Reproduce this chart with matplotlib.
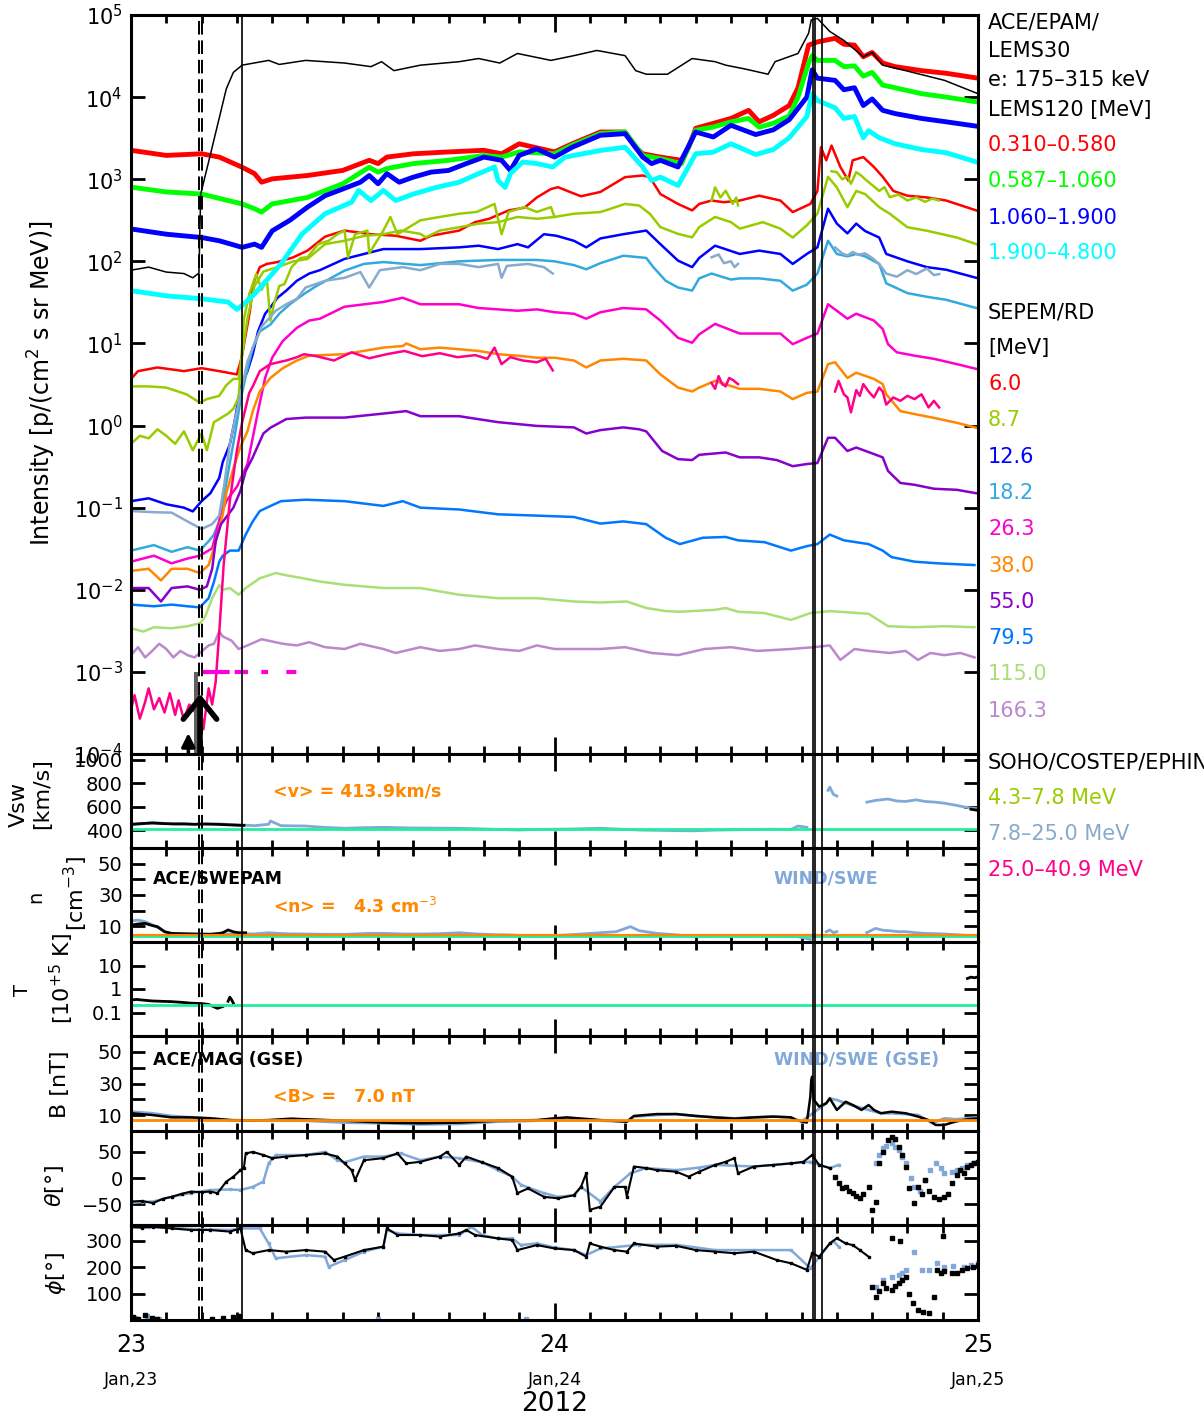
import numpy as np
import matplotlib
matplotlib.use("Agg")
import matplotlib.pyplot as plt
from matplotlib.patches import Rectangle
from matplotlib.ticker import NullLocator
from matplotlib.transforms import blended_transform_factory

plt.rcParams["font.family"] = ["DejaVu Sans"]
plt.rcParams["mathtext.fontset"] = "dejavusans"

nan = np.nan

# ---------------------------------------------------------------------------
# time axis: hours since 2012-01-23 00:00 UT
# ---------------------------------------------------------------------------

# ACE/EPAM LEMS30 electrons 175-315 keV
e30_t = [0, 1, 2, 3, 3.5, 3.85, 3.95, 4.5, 5.4, 5.8, 6.3, 7.8, 8.4, 9.9, 12.1, 13.6, 14.2, 14.9,
         16.4, 18.6, 19.7, 20.9, 21.9, 23.8, 25.1, 26.4, 28.0, 28.6, 29.2, 30.4, 31.8, 33.1, 33.7,
         34.8, 36.1, 36.5, 37.8, 38.4, 38.55, 38.9, 39.6, 40.4, 41.5, 42.0, 42.6, 43.9, 46.1, 48]
e30 = [78, 85, 74, 71, 63, 72, 660, 2.0e3, 1.26e4, 2.0e4, 2.45e4, 2.8e4, 2.5e4, 2.8e4, 2.6e4,
       2.35e4, 2.7e4, 2.1e4, 2.45e4, 2.7e4, 2.95e4, 2.6e4, 3.4e4, 2.8e4, 3.2e4, 3.7e4, 3.2e4,
       2.1e4, 1.9e4, 1.9e4, 2.95e4, 2.7e4, 2.45e4, 2.2e4, 1.9e4, 2.7e4, 3.4e4, 6.0e4, 8.7e4,
       9.1e4, 6.3e4, 4.9e4, 3.1e4, 3.5e4, 2.45e4, 2.1e4, 1.6e4, 1.1e4]

# ACE/EPAM LEMS120 protons
l1_t = [0, 2, 4, 5, 6.3, 7, 7.4, 8, 10, 12, 13.5, 14, 14.5, 16, 18, 20, 21, 22, 24, 25, 26.6,
        28, 28.6, 29, 30, 31.2, 31.6, 32, 33, 34, 35, 35.6, 36.4, 37.3, 37.8, 38.4, 38.9, 39.9,
        40.4, 41.0, 41.5, 42.0, 42.6, 43.3, 44.8, 46.2, 48]
l1 = [2250, 1950, 2040, 1860, 1400, 1170, 920, 1010, 1110, 1280, 1700, 1550, 1860, 2040, 2150,
      2250, 2040, 2700, 2150, 2700, 3760, 3760, 2450, 2040, 1860, 1700, 2450, 4170, 4790, 5500,
      6900, 5000, 6000, 7900, 1.3e4, 4.3e4, 4.7e4, 5.2e4, 4.4e4, 4.3e4, 3.1e4, 3.5e4, 2.6e4,
      2.35e4, 2.1e4, 1.95e4, 1.7e4]
l2_t = [0, 2, 4, 5.5, 6.3, 7, 7.4, 8, 10, 12, 13.5, 14, 14.5, 16, 18, 20, 21, 22, 24, 25, 26.6,
        28, 29, 30, 31.2, 32, 33, 34, 35, 35.6, 36.4, 37.3, 37.8, 38.4, 38.6, 38.9, 39.9, 40.4,
        41.0, 41.5, 42.0, 42.6, 43.3, 44.8, 46.2, 48]
l2 = [800, 700, 660, 550, 500, 437, 398, 500, 600, 880, 1400, 1220, 1350, 1550, 1700, 1950, 1860,
      2150, 2040, 2600, 3600, 3760, 1950, 1780, 1550, 3950, 4330, 5000, 5500, 4300, 4800, 5900,
      1.0e4, 2.6e4, 3.2e4, 2.8e4, 2.8e4, 2.35e4, 2.4e4, 1.8e4, 2.0e4, 1.4e4, 1.3e4, 1.1e4,
      1.0e4, 8700]
l3_t = [0, 2, 4, 5, 6.3, 7, 7.4, 8, 9, 10, 11, 12, 13, 13.5, 14, 14.5, 15.2, 16, 17, 18, 19, 20,
        21, 21.5, 22, 23, 24, 25, 26.6, 28, 29, 29.5, 30, 31, 32, 33, 34, 35.4, 36.4, 37.3, 38.3,
        38.6, 38.9, 39.9, 40.4, 41.0, 41.5, 42.0, 42.6, 43.3, 44.8, 46.2, 48]
l3 = [248, 214, 195, 178, 148, 162, 148, 235, 316, 457, 630, 760, 920, 1110, 880, 1170, 920,
      1060, 1220, 1280, 1550, 1860, 1700, 1280, 1950, 2340, 1860, 2450, 3430, 3590, 1860, 1550,
      1700, 1410, 3760, 3270, 4540, 3500, 4000, 5300, 1.0e4, 2.15e4, 1.7e4, 1.6e4, 1.23e4,
      1.3e4, 7900, 9500, 6900, 6300, 5500, 5000, 4400]
l4_t = [0, 2, 4, 5.5, 6, 6.3, 7, 7.5, 8.5, 9.7, 11, 12.5, 12.9, 13.6, 14.3, 15, 16, 17.3, 18.6,
        19.7, 20.6, 20.8, 21.2, 21.5, 22.2, 23, 23.9, 24.6, 26.6, 28, 29, 29.5, 30, 31, 32, 33,
        34, 35.4, 36.4, 37.3, 38.3, 38.6, 38.9, 39.9, 40.4, 41.0, 41.5, 41.8, 42.4, 43.3, 44.8,
        46.2, 48]
l4 = [44, 38, 35, 32, 26, 29, 40, 53, 93, 216, 380, 525, 730, 550, 730, 550, 660, 795, 920,
      1170, 1410, 966, 795, 1170, 1620, 1550, 1410, 1860, 2240, 2450, 1410, 966, 1060, 840, 2040,
      2140, 2700, 2000, 2300, 3200, 5800, 1.1e4, 9100, 7400, 5500, 5800, 3200, 3900, 3200, 2700,
      2300, 2100, 1600]

# SEPEM reference dataset channels
s1_t = [0, 0.4, 1.5, 3, 4, 5, 6.0, 6.27, 6.74, 6.93, 7.3, 7.7, 8.3, 9.2, 10, 11, 12.1, 13.6, 15,
        16.4, 17, 18.6, 19.5, 20.3, 21.4, 22.3, 23, 23.8, 24.2, 24.8, 25.5, 26.6, 28, 29, 29.4,
        30, 31, 31.8, 32.2, 32.9, 33.6, 34.5, 35.6, 36.8, 37.5, 38.5, 38.9, 39.1, 39.4, 39.7,
        40.2, 40.65, 40.9, 41.5, 42.1, 42.6, 43.2, 44.0, 45.1, 46.2, 47.9]
s1 = [3.7, 4.6, 5.1, 4.6, 5.0, 4.6, 4.2, 6.7, 25, 54, 85, 93, 98, 112, 135, 200, 237, 214, 205,
      178, 205, 237, 300, 330, 417, 450, 600, 760, 800, 710, 620, 700, 1060, 1110, 1060, 660,
      500, 417, 500, 550, 525, 550, 630, 550, 398, 500, 720, 2450, 1700, 2570, 1410, 966, 1700,
      1860, 1410, 1070, 720, 630, 600, 550, 417]
s2_t = [0, 1, 2, 3.15, 3.9, 4.3, 5.0, 5.4, 5.8, 6.1, 6.6, 7.0, 7.5, 8.3, 9.2, 10, 11, 12.1, 13.2,
        14.3, 15.3, 16.4, 16.7, 17.5, 18.6, 19.7, 20.8, 21.9, 23, 24, 25.1, 26.6, 28, 28.8, 29.4,
        30, 31, 31.8, 32.2, 33.1, 34.0, 34.5, 35.8, 36.8, 37.5, 38.3, 38.9, 39.5, 40.0, 40.6,
        41.1, 41.6, 42.4, 43.0, 44.0, 45.1, 46.8, 47.9]
s2 = [3.0, 3.0, 2.9, 2.4, 1.9, 2.1, 2.3, 3.1, 3.7, 3.7, 20, 50, 75, 85, 100, 107, 162, 178, 204,
      214, 237, 216, 196, 237, 260, 288, 300, 347, 330, 347, 380, 398, 500, 478, 380, 261, 216,
      196, 261, 347, 300, 250, 300, 250, 195, 275, 380, 1070, 795, 457, 720, 660, 457, 380, 260,
      236, 195, 162]
s3_t = [0, 1, 2, 3, 3.5, 4, 4.5, 5.0, 5.2, 5.6, 5.9, 6.2, 6.6, 6.9, 7.2, 7.6, 7.9, 8.3, 8.8, 9.4,
        10.1, 10.7, 12.1, 14.3, 16.4, 18.6, 19.7, 20.8, 21.9, 22.5, 23.4, 24.1, 25.1, 25.8, 26.6,
        27.9, 29.2, 30, 31, 31.8, 32.2, 33.1, 34.5, 35.6, 36.8, 37.5, 38.3, 38.9, 39.5, 40.0,
        40.6, 41.1, 41.6, 42.4, 42.8, 44.0, 45.1, 46.2, 47.9]
s3 = [0.12, 0.13, 0.11, 0.10, 0.09, 0.12, 0.15, 0.23, 0.36, 0.59, 1.2, 2.9, 4.6, 7.4, 14, 23,
      27.5, 36, 44, 58, 71, 78, 107, 141, 141, 148, 155, 141, 162, 148, 214, 205, 178, 148, 190,
      214, 237, 162, 102, 85, 110, 155, 123, 135, 123, 93, 123, 148, 437, 288, 219, 288, 234,
      195, 123, 100, 85, 79, 63]
s4_t = [0, 1.3, 2.3, 3.2, 3.9, 4.4, 4.7, 5.0, 5.3, 5.6, 5.9, 6.2, 6.5, 6.9, 7.3, 7.9, 8.4, 9.0,
        9.8, 10.5, 12.1, 13.2, 14.3, 16.4, 18.6, 20.8, 23, 24, 25.1, 25.8, 26.6, 27.9, 29.2, 29.6,
        30.3, 31, 31.8, 32.2, 32.9, 34, 34.5, 35.6, 36.8, 37.5, 38.3, 38.9, 39.5, 40.0, 40.6,
        41.1, 41.6, 42.4, 42.8, 44.0, 45.1, 46.2, 47.9]
s4 = [0.030, 0.035, 0.029, 0.033, 0.030, 0.039, 0.047, 0.068, 0.15, 0.35, 0.8, 2.0, 4.0, 8.9, 14,
      17, 23, 30, 40, 50, 77, 93, 98, 90, 100, 104, 104, 100, 90, 80, 95, 117, 110, 85, 58, 48,
      44, 62, 71, 60, 62, 62, 58, 44, 52, 71, 178, 123, 115, 123, 115, 93, 54, 41, 37, 34, 27]
s5_t = [0, 1.3, 2.3, 3.2, 3.9, 4.6, 4.8, 5.1, 5.4, 6.0, 6.6, 6.9, 7.2, 7.6, 8.0, 8.6, 9.4, 10.1,
        10.7, 12.1, 14.3, 15.4, 16.4, 18.6, 19.7, 20.8, 21.9, 23, 24, 25.1, 25.8, 26.6, 27.9,
        29.2, 30, 31, 31.8, 32.2, 33.1, 34.5, 35.6, 36.8, 37.5, 38.3, 38.9, 39.5, 40.0, 40.6,
        41.1, 42.1, 42.6, 42.9, 43.4, 44.4, 45.5, 46.8, 47.9]
s5 = [0.022, 0.026, 0.021, 0.024, 0.026, 0.032, 0.047, 0.083, 0.12, 0.18, 0.34, 0.71, 1.5, 3.8,
      6.7, 10.7, 15.5, 19, 20, 28, 32, 36, 30, 30, 27, 26, 25, 26, 24, 23, 20, 24, 27, 26, 19,
      11.7, 10.2, 12.9, 17.3, 13.2, 13.2, 13.2, 9.8, 11.7, 13.2, 30, 25, 20, 23, 19, 15, 9.8,
      7.8, 7.1, 6.5, 5.6, 4.9]
s6_t = [0, 1, 1.7, 2.3, 3.2, 3.9, 4.4, 4.7, 5.0, 5.2, 5.4, 5.8, 6.2, 6.6, 6.9, 7.3, 7.9, 8.6, 9.4,
        10.1, 12.1, 14.3, 15.4, 15.6, 16.4, 17.5, 18.6, 19.7, 20.8, 21.9, 23, 24, 25.1, 25.8,
        26.6, 27.9, 29.2, 30, 31, 31.8, 32.2, 33.1, 34.5, 35.6, 36.8, 37.5, 38.3, 38.9, 39.5,
        39.9, 40.6, 41.1, 42.1, 42.6, 42.8, 43.6, 44.4, 45.5, 46.8, 47.9]
s6 = [0.017, 0.018, 0.013, 0.018, 0.018, 0.016, 0.020, 0.032, 0.056, 0.083, 0.15, 0.3, 0.55,
      0.85, 1.5, 2.6, 3.8, 5.0, 6.2, 7.1, 7.4, 8.9, 9.3, 10, 8.5, 8.9, 8.5, 8.1, 7.4, 7.1, 6.7,
      6.7, 6.2, 5.1, 6.2, 6.5, 6.2, 4.2, 2.9, 2.6, 2.9, 3.5, 2.8, 2.8, 2.6, 2.1, 2.5, 2.6, 5.6,
      5.9, 3.8, 4.4, 3.7, 3.2, 2.4, 1.5, 1.38, 1.24, 1.08, 0.94]
s7_t = [0, 1, 1.7, 2.3, 3.2, 3.9, 4.3, 4.6, 4.8, 5.1, 5.8, 6.2, 6.5, 6.9, 7.5, 7.9, 8.8, 9.9,
        12.1, 14.3, 15.6, 16.4, 18.6, 20.8, 23, 25.1, 25.8, 26.6, 27.9, 28.8, 29.2, 30.1, 31,
        31.8, 32.2, 33.7, 34.5, 35.6, 36.6, 37.5, 38.3, 38.9, 39.5, 39.9, 40.6, 41.1, 42.1, 42.6,
        42.9, 43.6, 44.4, 45.5, 46.8, 47.9]
s7 = [0.0105, 0.0105, 0.0072, 0.0105, 0.011, 0.010, 0.011, 0.018, 0.039, 0.063, 0.10, 0.16,
      0.28, 0.41, 0.80, 0.94, 1.2, 1.25, 1.25, 1.4, 1.5, 1.3, 1.3, 1.1, 0.99, 0.95, 0.8, 0.88,
      0.95, 0.9, 0.85, 0.49, 0.39, 0.38, 0.44, 0.47, 0.41, 0.41, 0.38, 0.32, 0.34, 0.35, 0.71,
      0.71, 0.49, 0.54, 0.45, 0.41, 0.28, 0.20, 0.19, 0.17, 0.165, 0.15]
s8_t = [0, 1.3, 2.3, 3.2, 3.9, 4.4, 4.7, 5.0, 5.2, 5.6, 6.1, 6.5, 6.9, 7.3, 7.7, 8.5, 9.9, 12.1,
        14.3, 15.4, 16.4, 18.6, 20.8, 23, 25.1, 26.6, 27.9, 29.2, 30.3, 31.1, 32.4, 33.7, 34.4,
        35.9, 37.4, 38.3, 38.9, 39.6, 40.4, 41.8, 42.6, 43.1, 44.4, 45.7, 47.8]
s8 = [0.0066, 0.0063, 0.0066, 0.0063, 0.0061, 0.0079, 0.0125, 0.022, 0.026, 0.030, 0.030, 0.047,
      0.068, 0.091, 0.10, 0.12, 0.125, 0.12, 0.105, 0.12, 0.10, 0.095, 0.083, 0.080, 0.077,
      0.064, 0.068, 0.063, 0.043, 0.036, 0.043, 0.044, 0.040, 0.038, 0.030, 0.034, 0.036, 0.047,
      0.040, 0.036, 0.030, 0.025, 0.022, 0.021, 0.020]
s9_t = [0, 0.7, 1.3, 2.3, 3.2, 3.9, 4.2, 4.6, 5.0, 5.2, 5.6, 6.1, 6.5, 7.3, 8.2, 8.8, 9.6, 10.7,
        12.1, 14.3, 16.4, 18.6, 20.8, 23, 25.1, 26.6, 28.1, 29.2, 30.3, 31.1, 33.1, 33.7, 34.4,
        35.9, 37.4, 38.5, 39.6, 41.8, 42.9, 44.4, 46.1, 47.8]
s9 = [0.0034, 0.0031, 0.0035, 0.0034, 0.0036, 0.0039, 0.0047, 0.0079, 0.0114, 0.010, 0.0105,
      0.0087, 0.0105, 0.0138, 0.016, 0.015, 0.014, 0.0126, 0.0115, 0.0105, 0.0105, 0.0087,
      0.0079, 0.0079, 0.0072, 0.0070, 0.0072, 0.0060, 0.0055, 0.0054, 0.0057, 0.0060, 0.0054,
      0.0052, 0.0043, 0.0052, 0.0055, 0.0051, 0.0036, 0.0035, 0.0036, 0.0035]
s10_t = [0, 0.4, 0.8, 1.2, 1.6, 2.0, 2.4, 2.8, 3.2, 3.6, 3.9, 4.4, 4.7, 5.0, 5.2, 5.7, 6.1, 6.6,
         7.4, 8.6, 9.4, 10.1, 11, 12.1, 13, 14.3, 15, 16.4, 17.5, 18.6, 19.5, 20.8, 22, 23, 24,
         25.1, 26.6, 28, 29.5, 31, 32.5, 34, 35.5, 37.4, 38.7, 39.6, 40.2, 41, 41.8, 43, 43.9,
         44.6, 45.3, 46.1, 47, 47.8]
s10 = [0.0016, 0.0020, 0.0015, 0.0018, 0.0022, 0.0019, 0.0015, 0.0018, 0.0016, 0.0015, 0.0017,
       0.0021, 0.0022, 0.0031, 0.0027, 0.0024, 0.0019, 0.0021, 0.0025, 0.0022, 0.0021, 0.0023,
       0.0020, 0.0019, 0.0022, 0.0019, 0.0017, 0.0020, 0.0018, 0.0019, 0.0021, 0.0019, 0.0018,
       0.0021, 0.0019, 0.0019, 0.0019, 0.0020, 0.0017, 0.0016, 0.0019, 0.0020, 0.0018, 0.0019,
       0.0020, 0.0021, 0.0014, 0.0019, 0.0018, 0.0017, 0.0018, 0.0014, 0.0017, 0.0016, 0.0017,
       0.0015]

# SOHO/COSTEP/EPHIN channels (nan marks data gaps)
p1_t = [0, 0.5, 1, 1.5, 2, 2.5, 3, 3.5, 4, 4.3, 4.7, 5.0, 5.5, 5.8, 6.1, 6.4, 6.7, 7.1, 7.4, 7.7,
        7.9, 8.1, 8.4, 8.7, 9.1, 9.6, 10.0, 10.6, 11.2, 11.7, 12.1, 12.3, 12.7, 13.4, 13.5, 14.3,
        14.7, 15.1, 16.4, 17.5, 18.6, 19.6, 20.6, 21.0, 21.4, 22.3, 23.0, 23.8, 24.0, 28,
        32.9, 33.1, 33.4, 33.7, 34.1, 34.3, 34.4, 37,
        39.7, 40.0, 40.3, 40.6, 40.8, 41.1, 41.4, 41.6, 42.0, 42.4, 42.7, 43.0, 43.5, 44.0, 44.5,
        45.0, 45.4, 45.8]
p1 = [0.6, 0.75, 0.7, 0.9, 0.75, 0.6, 0.85, 0.5, 0.8, 0.5, 1.1, 1.2, 1.4, 1.6, 2.2, 20, 40, 70,
      45, 60, 19, 30, 50, 53, 85, 110, 112, 162, 178, 214, 237, 112, 214, 237, 125, 237, 347, 214,
      316, 347, 380, 400, 500, 214, 400, 457, 400, 457, 347, nan,
      550, 795, 600, 725, 500, 600, 480, nan,
      1250, 1220, 1000, 1070, 880, 1220, 1100, 1000, 850, 720, 800, 605, 650, 550, 600, 530,
      580, 550]
p2_t = [0, 1.3, 2.3, 3.2, 4.0, 4.6, 5.0, 5.3, 5.6, 6.0, 6.3, 6.6, 7.0, 7.4, 7.8, 8.2, 8.8, 9.4,
        9.9, 11.0, 12.1, 13.0, 13.5, 14.1, 15.4, 16.4, 17.5, 18.6, 19.7, 20.8, 21.0, 21.3, 22.5,
        23.4, 23.9, 28,
        32.9, 33.3, 33.6, 34.0, 34.2, 34.4, 37,
        39.9, 40.3, 40.6, 40.9, 41.2, 41.6, 42.0, 42.4, 42.8, 43.4, 44.0, 44.5, 45.1, 45.5, 45.8]
p2 = [0.091, 0.088, 0.087, 0.068, 0.055, 0.063, 0.08, 0.2, 0.6, 1.5, 3, 6, 10, 16, 20, 25, 30,
      35, 48, 58, 63, 74, 48, 78, 85, 78, 93, 93, 85, 93, 63, 88, 93, 85, 71, nan,
      112, 121, 95, 100, 85, 93, nan,
      148, 125, 118, 130, 120, 125, 110, 93, 71, 65, 78, 70, 82, 68, 70]
p3_t = [0, 0.2, 0.5, 0.8, 1.0, 1.3, 1.6, 1.9, 2.2, 2.5, 2.7, 3.0, 3.3, 3.6, 3.9, 4.1, 4.4, 4.6,
        4.8, 5.0, 5.25, 5.6, 6.0, 6.3, 6.7, 6.9, 7.3, 7.9, 8.8, 9.4, 9.8, 10.5, 11.5, 12.5, 13.5,
        14.5, 15.5, 16.5, 17.5, 18.5, 19.5, 20.2, 20.6, 21.0, 21.5, 22.2, 23.0, 23.5, 23.9, 28,
        32.9, 33.1, 33.3, 33.5, 33.7, 33.9, 34.1, 34.4, 37,
        39.9, 40.1, 40.4, 40.6, 40.8, 41.1, 41.3, 41.5, 41.8, 42.1, 42.4, 42.6, 42.8, 43.2, 43.6,
        44.0, 44.4, 44.8, 45.2, 45.5, 45.8]
p3 = [3.5e-4, 5.2e-4, 2.7e-4, 4.3e-4, 6.3e-4, 3.5e-4, 4.8e-4, 3.2e-4, 5.5e-4, 3.0e-4, 4.5e-4,
      2.6e-4, 4.0e-4, 3.3e-4, 4.2e-4, 2.0e-4, 6.3e-4, 4.0e-4, 7.6e-4, 3.0e-3, 0.02, 0.12, 0.5,
      1.1, 2.5, 3.0, 4.6, 5.6, 6.2, 6.8, 7.4, 7.0, 6.2, 7.8, 6.6, 7.4, 8.1, 7.0, 7.6, 6.8, 7.2,
      6.5, 8.9, 5.6, 6.8, 6.2, 5.9, 6.5, 4.7, nan,
      3.3, 2.8, 4.0, 3.2, 3.0, 3.8, 3.6, 3.2, nan,
      2.6, 3.5, 2.4, 2.2, 1.45, 2.7, 2.3, 3.2, 2.6, 2.2, 2.9, 2.6, 1.8, 2.2, 2.0, 2.3, 2.1, 2.4,
      1.66, 2.0, 1.66]

# solar wind speed [km/s]
v_ace_t = [0, 0.6, 1.2, 1.8, 2.4, 3.0, 3.6, 4.2, 4.8, 5.4, 6.0, 6.4, 30, 47.6, 47.8, 48.0]
v_ace = [452, 458, 462, 458, 455, 456, 452, 455, 452, 448, 444, 442, nan, 580, 575, 570]
v_wind_t = [0, 0.6, 1.2, 1.7, 2.4, 3.0, 4.0, 5.0, 6.0, 7.0, 7.8, 7.9, 8.5, 9.9, 11, 12.1, 13,
            14.3, 16, 18.6, 20, 21.9, 23, 24, 25, 26.6, 28.8, 30, 31.8, 33, 35.3, 36.5, 37.4,
            37.8, 38.3, 39, 39.5, 39.6, 39.8, 40.0, 41, 41.7, 42.2, 42.9, 43.4, 43.9, 44.5,
            45.0, 45.6, 46.1, 46.7, 47.2, 47.6, 48]
v_wind = [446, 455, 468, 462, 455, 452, 450, 455, 448, 440, 452, 480, 440, 437, 425, 418, 422,
          426, 420, 418, 412, 403, 408, 410, 412, 418, 403, 400, 396, 402, 408, 410, 408, 437,
          426, nan, 740, 768, 707, 692, nan, 640, 655, 667, 650, 646, 660, 646, 640, 631, 615,
          600, 590, 585]
v_mean = 413.9

# proton density [cm^-3]
n_ace_t = [0, 0.4, 0.8, 1.2, 1.5, 1.9, 2.3, 2.8, 3.4, 4.0, 4.5, 5.0, 5.2, 5.5, 5.8, 6.1, 6.5]
n_ace = [10.8, 11.5, 11.9, 10.5, 9.8, 6.6, 5.5, 5.3, 5.1, 5.0, 4.9, 5.5, 5.9, 7.7, 6.5, 5.9, 5.9]
n_wind_t = [0, 0.4, 0.8, 1.2, 1.6, 2.0, 2.3, 3.0, 4.0, 5.0, 6.0, 7.0, 7.8, 8.3, 9.0, 9.9, 11,
            12.1, 13.5, 14.3, 15.5, 16.4, 17.5, 18.6, 19.5, 20.5, 21.5, 23, 24, 25, 26.6, 27.5,
            28.3, 28.8, 29.8, 31, 31.8, 33, 34.5, 35.3, 36.5, 37.8, 38.5, 39,
            39.4, 39.6, 39.8, 40.0, 41,
            41.7, 42.2, 42.6, 43.0, 43.5, 43.9, 44.5, 45.0, 45.6, 46.1, 47.0, 48]
n_wind = [13.4, 14.0, 13.0, 11.0, 8.7, 6.0, 5.5, 5.3, 5.1, 5.0, 5.1, 5.2, 5.9, 5.5, 5.2, 5.1,
          4.9, 4.9, 5.5, 5.5, 5.1, 5.1, 5.3, 5.9, 5.2, 4.7, 4.5, 3.4, 4.0, 4.7, 5.9, 6.6, 9.8,
          7.2, 5.5, 4.5, 3.4, 4.0, 3.8, 4.0, 3.8, 3.4, 1.7, nan,
          6.5, 7.7, 6.0, 6.6, nan,
          6.0, 8.7, 7.5, 7.2, 6.6, 6.6, 5.9, 5.5, 5.3, 5.1, 4.5, 3.8]
n_mean = 4.3
n_mean_ace = 3.6

# proton temperature [10^5 K]
T_ace_t = [0, 0.3, 0.8, 1.2, 1.7, 2.3, 2.9, 3.4, 4.0, 4.4, 4.9, 5.2, 5.3, 5.5, 5.6, 5.7, 5.8,
           6.0, 6.4, 20, 47.4, 47.6, 47.8, 48]
T_ace = [0.34, 0.36, 0.33, 0.31, 0.30, 0.29, 0.27, 0.25, 0.24, 0.22, 0.15, 0.18, nan, 0.30, 0.45,
         0.35, 0.25, nan, 0.55, nan, 2.8, 3.2, 3.0, 3.3]
T_mean = 0.2

# magnetic field magnitude [nT]
B_ace_t = [0, 1.2, 2.3, 3.4, 4.5, 5.6, 6.5, 7.8, 9.1, 9.9, 12.1, 14.3, 16.4, 18.6, 20.8, 23, 24,
           24.7, 26.6, 28.1, 28.5, 29.8, 30.9, 32, 33.1, 34.2, 35.3, 36.4, 37.4, 37.7, 38.3,
           38.5, 38.55, 38.6, 38.7, 39.0, 39.4, 39.6, 40.0, 40.5, 40.9, 41.4, 41.8, 42.1, 42.5,
           43.1, 43.9, 44.6, 45.2, 45.6, 46.1, 46.7, 47.4, 48]
B_ace = [11.2, 10.1, 8.6, 8.6, 8.0, 6.9, 6.5, 6.9, 7.8, 7.4, 6.5, 5.3, 4.9, 5.3, 6.5, 6.9, 8.0,
         8.6, 6.9, 5.9, 9.5, 10.7, 10.7, 9.5, 8.6, 7.8, 8.6, 9.1, 8.6, 6.9, 5.3, 21.7, 32.2, 34.3,
         19.6, 15.4, 17.5, 20.6, 13.3, 18.5, 16.4, 13.3, 16.4, 13.3, 11.2, 12.2, 11.2, 9.1, 6.9,
         3.8, 3.8, 5.9, 7.4, 8.0]
B_wind_t = [0, 1.2, 2.3, 3.4, 4.5, 5.6, 7.8, 9.9, 12.1, 14.3, 16.4, 18.6, 20.8, 23, 24, 24.7,
            26.6, 28.1, 28.5, 29.8, 30.9, 32, 33.1, 34.2, 35.3, 36.4, 37.4, 38.0, 39.4, 39.6,
            40.0, 40.5, 41.4, 41.8, 42.5, 43.1, 43.9, 44.6, 45.4, 46.1, 46.7, 47.4, 48]
B_wind = [12.2, 11.2, 9.5, 8.6, 8.0, 6.9, 6.5, 6.5, 5.3, 4.9, 4.2, 4.5, 5.9, 6.5, 7.8, 8.0, 6.5,
          5.9, 9.1, 10.1, 10.7, 9.5, 8.6, 8.0, 8.6, 9.1, 8.6, 6.0, 17.5, 20.6, 19.6, 17.5, 14.5,
          13.3, 11.2, 11.2, 10.7, 10.1, 5.0, 8.0, 7.4, 8.0, 8.6]
B_mean = 7.0

# field latitude theta [deg]
th_ace_t = [0, 0.6, 1.25, 1.8, 2.3, 2.9, 3.4, 4.0, 4.5, 4.9, 5.4, 5.8, 6.2, 6.4, 6.5, 6.9, 7.5,
            8.0, 8.8, 9.9, 11.0, 11.7, 12.1, 12.5, 12.7, 13.2, 14.3, 15.1, 15.6, 16.4, 17.5,
            17.9, 18.6, 19.0, 19.9, 20.8, 21.6, 21.9, 22.5, 23.4, 24.2, 25.1, 25.5, 25.8, 26.0,
            26.6, 27.4, 28.0, 28.1, 28.5, 29.2, 29.8, 30.9, 31.6, 32.2, 33.1, 33.7, 34.2, 34.4,
            35.3, 36.4, 37.4, 38.1, 38.6, 39.0, 39.6]
th_ace = [-45, -44, -48, -40, -36, -30, -26, -27, -26, -29, -7, 2.5, 15, 20, 47, 50, 44, 38, 41,
          44, 47, 41, 28, 15, -4, 34, 38, 47, 28, 31, 41, 50, 25, 41, 30, 19, 2.5, -29, -20, -36,
          -39, -33, -17, 9, -61, -55, -17, -17, -36, 22, 19, 15, 12, 2.5, 12, 25, 31, 38, 9, 22,
          25, 28, 31, 44, 25, 19]
th_ace_sc_t = [39.9, 40.1, 40.3, 40.5, 40.7, 40.9, 41.1, 41.3, 41.5, 41.8, 42.0, 42.2, 42.4,
               42.6, 42.9, 43.1, 43.3, 43.5, 43.7, 43.9, 44.1, 44.4, 44.6, 44.8, 45.0, 45.2,
               45.5, 45.8, 46.1, 46.3, 46.5, 46.8, 47.0, 47.2, 47.4, 47.6, 47.8, 48.0]
th_ace_sc = [2.5, -10, -20, -17, -25, -29, -35, -39, -30, -17, -61, -45, 28, 50, 73, 79, 75, 60,
             45, 22, -20, -48, -17, -30, -4, -25, -36, -40, -36, -30, -10, 5, 15, 10, 22, 25, 28,
             31]
th_wind_t = [0, 0.6, 1.25, 2.3, 3.4, 4.5, 5.6, 6.2, 6.9, 7.5, 7.8, 8.2, 9.9, 11.0, 11.7, 12.1,
             13.2, 14.3, 15.3, 16.4, 17.5, 18.6, 19.9, 20.8, 21.6, 22.1, 23.4, 24.2, 25.1, 25.5,
             26.6, 27.4, 28.3, 29.2, 30.9, 32.2, 33.1, 35.3, 36.4, 37.4, 38.5, 39.6, 40.1]
th_wind = [-48, -46, -45, -36, -29, -23, -22, -23, -17, -7, 28, 44, 44, 50, 34, 30, 41, 41, 47,
           34, 41, 38, 30, 15, 2.5, -13, -29, -36, -33, -17, -45, -17, 9, 19, 15, 20, 25, 22, 25,
           28, 31, 19, 25]
th_wind_sc_t = [42.2, 42.4, 42.6, 42.8, 43.1, 43.3, 43.5, 43.7, 43.9, 44.2, 44.4, 44.7, 45.0,
                45.3, 45.6, 45.9, 46.1, 46.5, 46.8, 47.1, 47.4, 47.7, 48.0]
th_wind_sc = [28, 45, 57, 62, 67, 60, 54, 40, 28, 0, -17, -25, -4, 15, 28, 20, 9, 12, 15, 20, 25,
              28, 31]

# field longitude phi [deg]
ph_ace_t = [0, 0.6, 1.25, 2.3, 3.4, 4.5, 5.6, 6.2, 6.5, 6.9, 7.8, 8.8, 9.9, 11.0, 11.5, 12.1,
            13.2, 14.3, 14.5, 15.1, 16.4, 17.5, 18.6, 19.0, 19.5, 20.8, 21.6, 21.9, 23.0, 24.0,
            25.1, 25.8, 26.0, 26.6, 27.4, 28.1, 28.5, 29.8, 30.9, 32.0, 33.1, 34.2, 35.3, 36.6,
            37.4, 38.3, 38.6, 39.0, 39.6, 40.0, 40.5, 40.9, 41.3, 41.8]
ph_ace = [353, 350, 353, 347, 341, 341, 335, 347, 265, 253, 265, 259, 265, 259, 227, 240, 265,
          278, 347, 322, 322, 316, 328, 341, 322, 309, 303, 265, 284, 271, 265, 240, 290, 278,
          265, 259, 290, 278, 281, 265, 259, 253, 259, 227, 215, 190, 253, 240, 290, 310, 290,
          284, 265, 240]
ph_ace_sc_t = [0.1, 0.4, 0.8, 1.2, 1.5, 4.6, 5.2, 5.8, 6.1, 42.0, 42.2, 42.4, 42.6, 42.8, 43.1,
               43.3, 43.5, 43.7, 43.9, 44.1, 44.3, 44.6, 44.9, 45.2, 45.5, 45.7, 45.9, 46.1,
               46.5, 46.8, 47.1, 47.4, 47.7, 48.0, 43.1, 43.6, 46.0]
ph_ace_sc = [12, 5, 18, 8, 3, 2, 6, 10, 15, 126, 88, 110, 139, 120, 114, 130, 139, 150, 164, 100,
             63, 38, 30, 25, 88, 190, 180, 184, 180, 177, 190, 196, 200, 209, 310, 300, 318]
ph_wind_t = [0, 1.0, 2.3, 3.4, 4.5, 5.6, 6.2, 7.3, 7.8, 8.2, 9.9, 11.0, 11.2, 12.1, 13.2, 14.3,
             14.5, 15.1, 16.4, 18.6, 19.3, 19.9, 20.8, 21.6, 22.1, 23.0, 24.0, 25.1, 25.8, 26.6,
             28.8, 30.9, 33.1, 35.3, 37.4, 38.5, 39.6, 39.8, 40.1]
ph_wind = [350, 352, 350, 345, 343, 341, 347, 347, 290, 234, 246, 240, 202, 227, 259, 278, 341,
           328, 322, 322, 353, 322, 309, 309, 284, 290, 275, 265, 246, 271, 285, 285, 265, 265,
           265, 196, 290, 300, 278]
ph_wind_sc_t = [0.2, 0.9, 1.6, 14.0, 22.4, 42.2, 42.6, 43.1, 43.5, 43.7, 43.9, 44.4, 44.8, 45.2,
                45.7, 46.1, 46.6, 47.2, 47.6, 48.0]
ph_wind_sc = [8, 15, 4, 3, 2, 126, 152, 164, 170, 177, 190, 259, 190, 190, 215, 202, 205, 202,
              210, 215]

# event markers [h]
onset_dashed = [3.85, 4.02]
event_solid = [6.3, 38.67, 38.78, 39.14]
ephin_threshold = 1e-3
threshold_span = (4.08, 9.4)

# ---------------------------------------------------------------------------
RED, GREEN, BLUE, CYAN = "#ff0000", "#00ff00", "#0000ff", "#00ffff"
sepem_colors = ["#ff0000", "#99cc00", "#0000ff", "#33aadd", "#ff00cc", "#ff8800", "#8800cc",
                "#0077ff", "#aade77", "#bb88cc"]
ephin_colors = ["#99cc00", "#88aacc", "#ff0088"]
WIND_C = "#80a8d8"
MEAN_C = "#22eea0"
ORANGE = "#ff8800"

W, H = 1204, 1420
fig = plt.figure(figsize=(W / 100, H / 100), dpi=100)
left_px, right_px = 131, 978
edges = [15, 754, 848, 942, 1036, 1131, 1225, 1320]
axes = []
for top, bot in zip(edges[:-1], edges[1:]):
    axes.append(fig.add_axes([left_px / W, 1 - bot / H, (right_px - left_px) / W, (bot - top) / H]))
ax0, axv, axn, axT, axB, axth, axph = axes

ax0.set_yscale("log")
axT.set_yscale("log")


def frame(ax):
    ax.set_xlim(0, 48)
    ax.set_xticks([0, 24, 48])
    ax.set_xticks(np.arange(2, 48, 2), minor=True)
    ax.tick_params(axis="x", which="major", direction="in", length=12, width=2,
                   top=True, labelbottom=False)
    ax.tick_params(axis="x", which="minor", direction="in", length=6, width=2, top=True)
    ax.tick_params(axis="y", which="major", direction="in", length=10, width=2,
                   right=True, labelsize=14, pad=6)
    ax.yaxis.set_minor_locator(NullLocator())
    for sp in ax.spines.values():
        sp.set_linewidth(2.2)
    for tv in onset_dashed:
        ax.axvline(tv, color="k", lw=1.4, dashes=(7, 3), zorder=6)
    for tv in event_solid:
        ax.axvline(tv, color="k", lw=1.2, zorder=6)


# ---- particle intensities --------------------------------------------------
sepem = [(s1_t, s1), (s2_t, s2), (s3_t, s3), (s4_t, s4), (s5_t, s5), (s6_t, s6), (s7_t, s7),
         (s8_t, s8), (s9_t, s9), (s10_t, s10)]
for (t, v), c in zip(sepem, sepem_colors):
    ax0.plot(t, v, color=c, lw=1.8)
for (t, v), c in zip([(p1_t, p1), (p2_t, p2), (p3_t, p3)], ephin_colors):
    ax0.plot(t, v, color=c, lw=1.8)
for t, v, c in [(l1_t, l1, RED), (l2_t, l2, GREEN), (l3_t, l3, BLUE), (l4_t, l4, CYAN)]:
    ax0.plot(t, v, color=c, lw=3.5, solid_joinstyle="round")
ax0.plot(e30_t, e30, color="k", lw=1.1)

ax0.plot(threshold_span, [ephin_threshold] * 2, color="#ff00dd", lw=3,
         dashes=[6.4, 1.2, 3.2, 3.2, 1.6, 4.4, 2.4, 10], dash_capstyle="butt")
ax0.add_patch(Rectangle((3.57, 1e-4), 0.23, ephin_threshold - 1e-4, color="#606060", lw=0,
                        zorder=4))
ax0.annotate("", xy=(3.91, 5.4e-4), xytext=(3.91, 1e-4), zorder=7,
             arrowprops=dict(arrowstyle="->,head_length=0.75,head_width=0.6", lw=4, color="k",
                             mutation_scale=20, shrinkA=0, shrinkB=0))
ax0.annotate("", xy=(3.25, 1.8e-4), xytext=(3.25, 1e-4), zorder=7,
             arrowprops=dict(arrowstyle="-|>,head_length=0.4,head_width=0.2", lw=2.5, color="k",
                             mutation_scale=20, shrinkA=0, shrinkB=0))

ax0.set_ylim(1e-4, 1e5)
frame(ax0)
decades = list(range(-4, 6))
ax0.set_yticks([10.0 ** k for k in decades])
ax0.set_yticklabels([f"$10^{{{k}}}$" for k in decades], fontsize=15)

# ---- solar wind speed ------------------------------------------------------
axv.plot(v_wind_t, v_wind, color=WIND_C, lw=2)
axv.plot(v_ace_t, v_ace, color="k", lw=2)
axv.axhline(v_mean, color=MEAN_C, lw=2)
axv.set_ylim(250, 1050)
frame(axv)
axv.set_yticks([400, 600, 800, 1000])
axv.text(0.168, 0.60, f"<v> = {v_mean}km/s", transform=axv.transAxes, color=ORANGE,
         fontsize=12.5, fontweight="bold", va="center")

# ---- density ---------------------------------------------------------------
axn.plot(n_wind_t, n_wind, color=WIND_C, lw=2)
axn.plot(n_ace_t, n_ace, color="k", lw=2)
axn.axhline(n_mean_ace, color=MEAN_C, lw=2)
axn.axhline(n_mean, color=ORANGE, lw=1.6)
axn.set_ylim(0, 60)
frame(axn)
axn.set_yticks([10, 20, 30, 40, 50])
axn.set_yticklabels(["10", "", "30", "", "50"])
axn.text(0.026, 0.68, "ACE/SWEPAM", transform=axn.transAxes, fontsize=12.5,
         fontweight="bold", va="center")
axn.text(0.759, 0.68, "WIND/SWE", transform=axn.transAxes, fontsize=12.5,
         fontweight="bold", va="center", color=WIND_C)
axn.text(0.168, 0.375, f"<n> =   {n_mean} cm$^{{-3}}$", transform=axn.transAxes,
         color=ORANGE, fontsize=12.5, fontweight="bold", va="center")

# ---- temperature -----------------------------------------------------------
axT.plot(T_ace_t, T_ace, color="k", lw=2)
axT.axhline(T_mean, color=MEAN_C, lw=2)
axT.set_ylim(0.01, 100)
frame(axT)
axT.set_yticks([0.1, 1, 10])
axT.set_yticklabels(["0.1", "1", "10"])

# ---- field magnitude -------------------------------------------------------
axB.plot(B_wind_t, B_wind, color=WIND_C, lw=2)
axB.plot(B_ace_t, B_ace, color="k", lw=1.8)
axB.axhline(B_mean, color=ORANGE, lw=2)
axB.set_ylim(0, 60)
frame(axB)
axB.set_yticks([10, 20, 30, 40, 50])
axB.set_yticklabels(["10", "", "30", "", "50"])
axB.text(0.026, 0.75, "ACE/MAG (GSE)", transform=axB.transAxes, fontsize=12.5,
         fontweight="bold", va="center")
axB.text(0.759, 0.75, "WIND/SWE (GSE)", transform=axB.transAxes, fontsize=12.5,
         fontweight="bold", va="center", color=WIND_C)
axB.text(0.168, 0.36, f"<B> =   {B_mean} nT", transform=axB.transAxes, color=ORANGE,
         fontsize=12.5, fontweight="bold", va="center")

# ---- field direction -------------------------------------------------------
axth.plot(th_wind_t, th_wind, color=WIND_C, lw=1.8, marker="s", ms=1.6)
axth.plot(th_ace_t, th_ace, color="k", lw=1.5, marker="s", ms=1.6)
axth.plot(th_wind_sc_t, th_wind_sc, ls="none", color=WIND_C, marker="s", ms=2.2)
axth.plot(th_ace_sc_t, th_ace_sc, ls="none", color="k", marker="s", ms=2.2)
axth.set_ylim(-90, 90)
frame(axth)
axth.set_yticks([-50, 0, 50])

axph.plot(ph_wind_t, ph_wind, color=WIND_C, lw=1.8, marker="s", ms=1.6)
axph.plot(ph_ace_t, ph_ace, color="k", lw=1.5, marker="s", ms=1.6)
axph.plot(ph_wind_sc_t, ph_wind_sc, ls="none", color=WIND_C, marker="s", ms=2.2)
axph.plot(ph_ace_sc_t, ph_ace_sc, ls="none", color="k", marker="s", ms=2.2)
axph.set_ylim(0, 360)
frame(axph)
axph.set_yticks([100, 200, 300])

# ---- time labels -----------------------------------------------------------
tr = blended_transform_factory(axph.transData, fig.transFigure)
for hr, day in zip([0, 24, 48], ["23", "24", "25"]):
    axph.text(hr, 1 - 1345 / H, day, transform=tr, ha="center", va="center", fontsize=17)
    axph.text(hr, 1 - 1380 / H, f"Jan,{day}", transform=tr, ha="center", va="center",
              fontsize=12.5)
axph.text(24, 1 - 1404 / H, "2012", transform=tr, ha="center", va="center", fontsize=19)

# ---- axis titles -----------------------------------------------------------
ylabels = [
    ("Intensity [p/(cm$^2$ s sr MeV)]", 42, 383, 17),
    ("Vsw", 19, 804, 16),
    ("[km/s]", 42, 794, 16),
    ("n", 36, 897, 14),
    ("[cm$^{-3}$]", 76, 893, 16),
    ("T", 22, 990, 14),
    ("[10$^{+5}$ K]", 62, 978, 16),
    ("B [nT]", 60, 1084, 16),
    (r"$\theta$[°]", 55, 1186, 16),
    (r"$\phi$[°]", 56, 1273, 16),
]
for txt, x, y, fs in ylabels:
    fig.text(x / W, 1 - y / H, txt, rotation=90, ha="center", va="center", fontsize=fs)

# ---- channel key -----------------------------------------------------------
key_text = ["ACE/EPAM/", "LEMS30", "e: 175–315 keV", "LEMS120 [MeV]",
            "0.310–0.580", "0.587–1.060", "1.060–1.900", "1.900–4.800",
            "SEPEM/RD", "[MeV]", "6.0", "8.7", "12.6", "18.2", "26.3", "38.0", "55.0", "79.5",
            "115.0", "166.3",
            "SOHO/COSTEP/EPHIN", "4.3–7.8 MeV", "7.8–25.0 MeV", "25.0–40.9 MeV"]
key_color = ["k", "k", "k", "k", RED, GREEN, BLUE, CYAN, "k", "k"] + sepem_colors + \
            ["k"] + ephin_colors
key_y = [22, 51, 80, 110, 145, 181, 218, 253, 312, 348, 384, 420, 457, 493, 529, 566, 602, 638,
         674, 711, 763, 798, 834, 870]
for txt, c, y in zip(key_text, key_color, key_y):
    fig.text(988 / W, 1 - y / H, txt, color=c, fontsize=15, va="center", ha="left")

fig.savefig("out.png", dpi=100)
